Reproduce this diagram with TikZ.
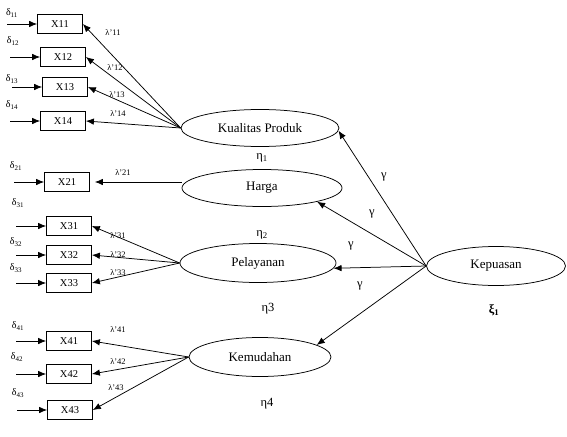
\documentclass[tikz,border=0pt]{standalone}
\usepackage{fontspec}
\setmainfont{Liberation Serif}
\usetikzlibrary{arrows.meta,shapes.geometric}

\begin{document}
\begin{tikzpicture}[x=1pt,y=-1pt,line width=0.75pt,
    ind/.style={draw,minimum width=45pt,minimum height=19pt,inner sep=0pt,font=\fontsize{10.5}{12}\selectfont},
    lat/.style={draw,ellipse,inner sep=0pt,font=\fontsize{13}{15}\selectfont},
    arr/.style={-{Latex[length=8pt,width=6.5pt]}},
    lam/.style={font=\fontsize{8.5}{10}\selectfont},
    err/.style={font=\fontsize{10}{11}\selectfont},
    eta/.style={font=\fontsize{12.5}{14}\selectfont}]
    \useasboundingbox (0,0) rectangle (567,436);

    % indikator
    \foreach \n/\x/\y in {11/60/24,12/63/57,13/65/87,14/63/121,21/67/182,
                          31/69/226,32/69/255,33/69/283,41/69/341,42/69/374,43/70/410}
    {
        \node[ind] (x\n) at (\x,\y) {X\n};
        \coordinate (e\n) at ([xshift=-30pt]x\n.west);
        \draw[arr] (e\n) -- (x\n.west);
    }

    % delta
    \foreach \n/\x/\y in {11/12/13,12/13/41,13/12/79,14/12/105,21/16/166,
                          31/18/203,32/16/242,33/16/268,41/18/326,42/17/357,43/18/393}
        \node[err] (d\n) at (\x,\y) {δ\textsubscript{\n}};

    % laten
    \node[lat,minimum width=158pt,minimum height=37pt] (kp) at (260,128) {Kualitas Produk};
    \node[lat,minimum width=160pt,minimum height=37pt] (hg) at (262,188) {Harga};
    \node[lat,minimum width=156pt,minimum height=39pt] (pl) at (258,263) {Pelayanan};
    \node[lat,minimum width=142pt,minimum height=39pt] (km) at (260,357) {Kemudahan};
    \node[lat,minimum width=139pt,minimum height=39pt] (kep) at (496,266) {Kepuasan};

    \node[eta] (n1) at (262,158) {η\textsubscript{1}};
    \node[eta] (n2) at (262,235) {η\textsubscript{2}};
    \node[eta] (n3) at (268,309) {η3};
    \node[eta] (n4) at (267,404) {η4};
    \node[eta] (xi) at (494,310) {\textbf{ξ\textsubscript{1}}};

    % lambda
    \foreach \n in {11,12,13,14}
        \draw[arr] (kp.west) -- (x\n.east);
    \draw[arr,shorten >=5pt] (hg.west |- x21) -- (x21.east);
    \foreach \n in {31,32,33}
        \draw[arr] (pl.west) -- (x\n.east);
    \foreach \n in {41,42,43}
        \draw[arr] (km.west) -- (x\n.east);

    \foreach \n/\x/\y in {11/113/33,12/115/68,13/117/95,14/118/114,21/123/173,
                          31/118/236,32/118/255,33/118/273,41/118/330,42/118/362,43/116/388}
        \node[lam] (l\n) at (\x,\y) {λ'\n};

    % gamma
    \draw[arr] (kep.west) -- (kp.-2);
    \draw[arr] (kep.west) -- (hg.-14);
    \draw[arr] (kep.west) -- (pl.-4);
    \draw[arr] (kep.west) -- (km.12);

    \node[eta] (g1) at (384,177) {γ};
    \node[eta] (g2) at (372,214) {γ};
    \node[eta] (g3) at (351,246) {γ};
    \node[eta] (g4) at (360,286) {γ};
\end{tikzpicture}
\end{document}
